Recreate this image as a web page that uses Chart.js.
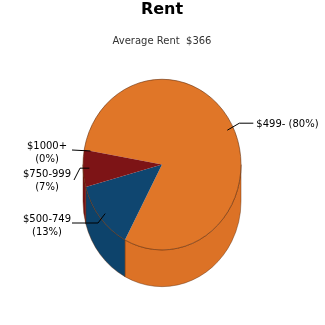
<!DOCTYPE html>
<html>
<head>
<meta charset="utf-8">
<script src="https://cdn.jsdelivr.net/npm/chart.js@4"></script>
<style>
  html, body { margin: 0; padding: 0; background: #fff; }
  #wrap { width: 325px; height: 325px; }
</style>
</head>
<body>
<div id="wrap"><canvas id="rentChart" width="325" height="325"></canvas></div>
<script>
// dados do gráfico
const categories = ['$499-', '$500-749', '$750-999', '$1000+'];
const shares = [80, 13, 7, 0];
const sliceColors = ['#E07628', '#0F4670', '#7D1416', '#C0392B'];
const sideColors = ['#DC7226', '#0D436B', '#781214', '#B03020'];
const averageRent = 366;

const DEPTH = 34;      // altura do "cilindro"
const SQUASH = 1.08;   // elipse um pouco mais alta que larga

// desenha a lateral 3D antes das fatias
const depthPlugin = {
  id: 'depth3d',
  beforeDatasetsDraw(chart) {
    const ctx = chart.ctx;
    const meta = chart.getDatasetMeta(0);
    const first = meta.data[0];
    ctx.save();
    ctx.translate(first.x, first.y);
    ctx.scale(1, SQUASH);
    ctx.translate(-first.x, -first.y);
    meta.data.forEach((arc, i) => {
      const p = arc.getProps(['x', 'y', 'startAngle', 'endAngle', 'outerRadius']);
      for (let k = -1; k <= 1; k++) {
        const lo = Math.max(p.startAngle, k * 2 * Math.PI);
        const hi = Math.min(p.endAngle, k * 2 * Math.PI + Math.PI);
        if (hi <= lo) continue;
        ctx.beginPath();
        ctx.arc(p.x, p.y, p.outerRadius, lo, hi);
        ctx.lineTo(p.x + p.outerRadius * Math.cos(hi), p.y + DEPTH + p.outerRadius * Math.sin(hi));
        ctx.arc(p.x, p.y + DEPTH, p.outerRadius, hi, lo, true);
        ctx.closePath();
        ctx.fillStyle = sideColors[i];
        ctx.fill();
        ctx.strokeStyle = 'rgba(90,40,10,0.5)';
        ctx.lineWidth = 0.8;
        ctx.stroke();
      }
    });
  },
  afterDatasetsDraw(chart) {
    const ctx = chart.ctx;
    const meta = chart.getDatasetMeta(0);
    const p = meta.data[0].getProps(['x', 'y', 'outerRadius']);
    // contorno da face de cima
    ctx.beginPath();
    ctx.arc(p.x, p.y, p.outerRadius, 0, Math.PI * 2);
    ctx.strokeStyle = 'rgba(100,45,10,0.7)';
    ctx.lineWidth = 0.8;
    ctx.stroke();
    ctx.restore();
  }
};

// rótulos com linhas de chamada
const labelPlugin = {
  id: 'calloutLabels',
  afterDraw(chart) {
    const ctx = chart.ctx;
    const meta = chart.getDatasetMeta(0);
    ctx.save();
    ctx.font = '10px "DejaVu Sans"';
    ctx.fillStyle = '#000';
    ctx.strokeStyle = '#000';
    ctx.lineWidth = 1;
    ctx.textBaseline = 'middle';
    meta.data.forEach((arc, i) => {
      const p = arc.getProps(['x', 'y', 'startAngle', 'endAngle', 'outerRadius']);
      const mid = (p.startAngle + p.endAngle) / 2;
      const r = p.outerRadius * 0.92;
      const sx = p.x + r * Math.cos(mid);
      const sy = p.y + r * Math.sin(mid) * SQUASH;
      const pct = '(' + shares[i] + '%)';
      ctx.beginPath();
      ctx.moveTo(sx, sy);
      if (Math.cos(mid) >= 0) {
        ctx.lineTo(sx + 12, sy - 7);
        ctx.lineTo(sx + 26, sy - 7);
        ctx.stroke();
        ctx.textAlign = 'left';
        ctx.fillText(categories[i] + ' ' + pct, sx + 29, sy - 6);
      } else {
        // posições ajustadas para não sobrepor
        const ty = [0, 223, 172, 150][i];
        const ex = [0, 98, 80, 72][i];
        if (ty === Math.round(sy)) {
          ctx.lineTo(72, sy);
        } else {
          ctx.lineTo(ex, ex === 80 ? sy : ty);
          ctx.lineTo(ex === 80 ? 74 : 72, ex === 80 ? 180 : ty);
        }
        ctx.stroke();
        ctx.textAlign = 'center';
        const tx = 47;
        const t1 = [0, 219, 174, 146][i];
        ctx.fillText(categories[i], tx, t1);
        ctx.fillText(pct, tx, t1 + 13);
      }
    });
    ctx.restore();
  }
};

const ctx = document.getElementById('rentChart').getContext('2d');
const myChart = new Chart(ctx, {
  type: 'pie',
  data: {
    labels: categories,
    datasets: [{
      data: shares,
      backgroundColor: sliceColors,
      borderWidth: 0,
      radius: 79
    }]
  },
  options: {
    responsive: false,
    animation: false,
    rotation: -80,
    layout: { padding: { left: 0, right: 1, top: 0, bottom: 43 } },
    plugins: {
      legend: { display: false },
      tooltip: { enabled: false },
      title: {
        display: true,
        text: 'Rent',
        color: '#000',
        font: { family: '"DejaVu Sans"', size: 16, weight: 'bold' },
        padding: { top: 0, bottom: 16 }
      },
      subtitle: {
        display: true,
        text: 'Average Rent  $' + averageRent,
        color: '#333',
        font: { family: '"DejaVu Sans"', size: 10 },
        padding: { top: 0, bottom: 0 }
      }
    }
  },
  plugins: [depthPlugin, labelPlugin]
});
</script>
</body>
</html>
